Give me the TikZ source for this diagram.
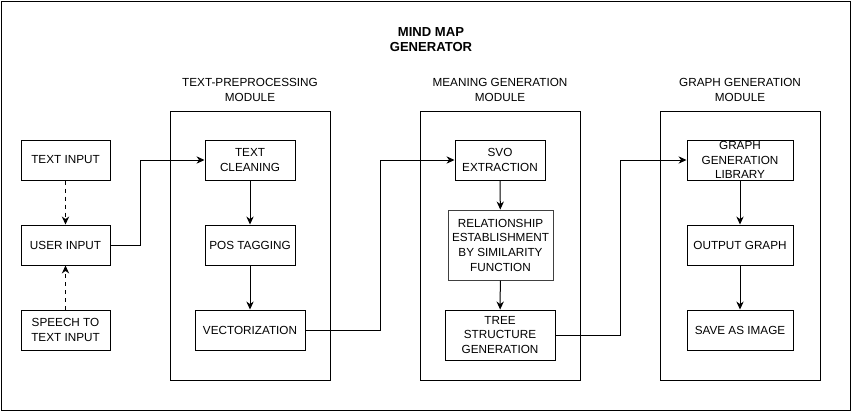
\documentclass[tikz,border=0pt]{standalone}
\usepackage{fontspec}
\setmainfont{Liberation Sans}
\usetikzlibrary{arrows.meta}

\begin{document}
\begin{tikzpicture}[x=0.75pt,y=-0.75pt]
        \tikzstyle{every node}=[font=\fontsize{8.8}{11}\selectfont, align=center, inner sep=0pt]
        \tikzstyle{blk}=[draw, line width=0.75pt, minimum height=30pt]
        \tikzstyle{module}=[draw, line width=0.75pt, minimum width=120pt, minimum height=201.75pt]
        \tikzstyle{flow}=[-{Stealth[length=6pt,width=5.5pt]}, line width=0.75pt]
        \useasboundingbox (0,0) rectangle (852,412);
        \draw[line width=0.75pt] (1,1) rectangle (850,410);
        \node[font=\fontsize{9.8}{11.5}\selectfont\bfseries] (title) at (431,39.5) {MIND MAP\\GENERATOR};
        % modules
        \node[module] (prep) at (250,245.5) {};
        \node[module] (mean) at (500,245.5) {};
        \node[module] (graph) at (740,245.5) {};
        \node (preplbl) at (250,90) {TEXT-PREPROCESSING\\MODULE};
        \node (meanlbl) at (500,90) {MEANING GENERATION\\MODULE};
        \node (graphlbl) at (740,90) {GRAPH GENERATION\\MODULE};
        % input side
        \node[blk, minimum width=66.75pt] (txtin) at (65.5,160) {TEXT INPUT};
        \node[blk, minimum width=66.75pt] (usrin) at (65.5,245) {USER INPUT};
        \node[blk, minimum width=66.75pt] (speech) at (65.5,330) {SPEECH TO\\TEXT INPUT};
        % text preprocessing
        \node[blk, minimum width=67.5pt] (clean) at (250,160) {TEXT\\CLEANING};
        \node[blk, minimum width=67.5pt] (pos) at (250,245) {POS TAGGING};
        \node[blk, minimum width=82.5pt] (vect) at (250,330) {VECTORIZATION};
        % meaning generation
        \node[blk, minimum width=67.5pt] (svo) at (500,160) {SVO\\EXTRACTION};
        \node[blk, draw=black!75, minimum width=78.75pt, minimum height=52.5pt] (rel) at (500.5,245) {RELATIONSHIP\\ESTABLISHMENT\\BY SIMILARITY\\FUNCTION};
        \node[blk, minimum width=82.5pt, minimum height=37.5pt] (tree) at (500,335) {TREE\\STRUCTURE\\GENERATION};
        % graph generation
        \node[blk, minimum width=79.5pt] (glib) at (740,160) {GRAPH\\GENERATION\\LIBRARY};
        \node[blk, minimum width=79.5pt] (outg) at (740,245) {OUTPUT GRAPH};
        \node[blk, minimum width=79.5pt] (save) at (740,330) {SAVE AS IMAGE};
        % connectors
        \draw[flow, dashed] (txtin) -- (usrin);
        \draw[flow, dashed] (speech) -- (usrin);
        \draw[flow] (usrin.east) -- ++(30,0) |- (clean.west);
        \draw[flow] (clean) -- (pos);
        \draw[flow] (pos) -- (vect);
        \draw[flow] (vect.east) -- ++(75,0) |- (svo.west);
        \draw[flow] (svo) -- (rel);
        \draw[flow] (rel) -- (tree);
        \draw[flow] (tree.east) -- ++(65,0) |- (glib.west);
        \draw[flow] (glib) -- (outg);
        \draw[flow] (outg) -- (save);
\end{tikzpicture}
\end{document}
